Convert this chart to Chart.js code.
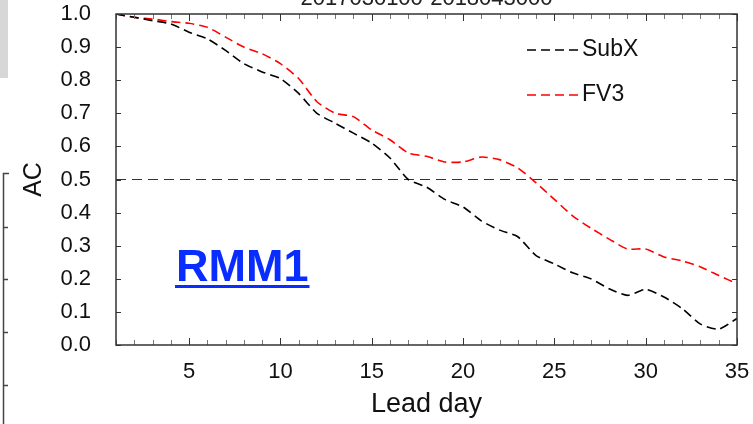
<!DOCTYPE html>
<html>
<head>
<meta charset="utf-8">
<script src="https://cdn.jsdelivr.net/npm/chart.js@4"></script>
<style>
  html, body { margin: 0; padding: 0; background: #fff; }
  canvas { display: block; }
</style>
</head>
<body>
<canvas id="acChart" width="753" height="424"></canvas>
<script>
// DATA
const leadDays = [1, 2, 3, 4, 5, 6, 7, 8, 9, 10, 11, 12, 13, 14, 15, 16, 17, 18,
  19, 20, 21, 22, 23, 24, 25, 26, 27, 28, 29, 30, 31, 32, 33, 34, 35];
const subxAC = [1.0, 0.99, 0.98, 0.97, 0.945, 0.925, 0.89, 0.85, 0.825, 0.805,
  0.76, 0.70, 0.67, 0.64, 0.61, 0.565, 0.50, 0.477, 0.44, 0.417, 0.375, 0.347,
  0.327, 0.27, 0.245, 0.218, 0.20, 0.17, 0.15, 0.168, 0.145, 0.11, 0.063, 0.048, 0.08];
const fv3AC = [1.0, 0.99, 0.985, 0.977, 0.972, 0.96, 0.93, 0.90, 0.88, 0.85,
  0.805, 0.735, 0.70, 0.69, 0.65, 0.62, 0.58, 0.57, 0.553, 0.553, 0.568, 0.56,
  0.535, 0.49, 0.44, 0.39, 0.353, 0.32, 0.29, 0.29, 0.266, 0.254, 0.236, 0.21, 0.185];
const refLine = [0.5, 0.5];
const xTickLabels = [5, 10, 15, 20, 25, 30, 35];
const yTickLabels = [0.0, 0.1, 0.2, 0.3, 0.4, 0.5, 0.6, 0.7, 0.8, 0.9, 1.0];

const FONT = "'Liberation Sans', Arial, Helvetica, sans-serif";
const AXIS = "#333";

// DECORATIONS: frame, inward ticks, legend, title, label
const decor = {
  id: "decor",
  afterDraw(chart) {
    const ctx = chart.ctx;
    const a = chart.chartArea;
    const xs = chart.scales.x;
    const ys = chart.scales.y;
    ctx.save();

    // bits of the neighbouring panel on the left
    ctx.fillStyle = "#d7d7d7";
    ctx.fillRect(0, 0, 8, 78);
    ctx.strokeStyle = "#444";
    ctx.lineWidth = 1.5;
    ctx.beginPath();
    ctx.moveTo(3.5, 424);
    ctx.lineTo(3.5, 173.5);
    ctx.lineTo(9, 173.5);
    [227, 279, 332, 385].forEach(function (y) {
      ctx.moveTo(3.5, y + 0.5);
      ctx.lineTo(8, y + 0.5);
    });
    ctx.stroke();

    // ticks pointing inward
    leadDays.forEach(function (d) {
      const px = Math.round(xs.getPixelForValue(d)) + 0.5;
      const major = d % 5 === 0;
      const len = major ? 7 : 5;
      ctx.strokeStyle = major ? AXIS : "#777";
      ctx.lineWidth = 1;
      ctx.beginPath();
      ctx.moveTo(px, a.bottom);
      ctx.lineTo(px, a.bottom - len);
      ctx.moveTo(px, a.top);
      ctx.lineTo(px, a.top + len);
      ctx.stroke();
    });
    yTickLabels.forEach(function (v) {
      const py = Math.round(ys.getPixelForValue(v)) + 0.5;
      ctx.strokeStyle = AXIS;
      ctx.lineWidth = 1;
      ctx.beginPath();
      ctx.moveTo(a.left, py);
      ctx.lineTo(a.left + 5, py);
      ctx.moveTo(a.right, py);
      ctx.lineTo(a.right - 5, py);
      ctx.stroke();
    });

    // frame
    ctx.strokeStyle = AXIS;
    ctx.lineWidth = 1.5;
    ctx.strokeRect(a.left, a.top, a.right - a.left, a.bottom - a.top);

    // cut-off title
    ctx.fillStyle = "#222";
    ctx.font = "22px " + FONT;
    ctx.textAlign = "center";
    ctx.textBaseline = "alphabetic";
    ctx.fillText("2017030100-2018043000", (a.left + a.right) / 2, 5);

    // legend
    const lx = a.right - 210;
    chart.data.datasets.forEach(function (ds, i) {
      if (!ds.label) return;
      const ly = a.top + 36 + i * 45;
      ctx.strokeStyle = ds.borderColor;
      ctx.lineWidth = 1.5;
      ctx.setLineDash([9, 5]);
      ctx.beginPath();
      ctx.moveTo(lx, ly);
      ctx.lineTo(lx + 55, ly);
      ctx.stroke();
      ctx.setLineDash([]);
      ctx.fillStyle = "#111";
      ctx.font = "23px " + FONT;
      ctx.textAlign = "left";
      ctx.textBaseline = "middle";
      ctx.fillText(ds.label, lx + 55, ly);
    });

    // RMM1 label
    ctx.fillStyle = "#0a2dff";
    ctx.font = "bold 45px " + FONT;
    ctx.textAlign = "left";
    ctx.textBaseline = "alphabetic";
    const tx = a.left + 60;
    ctx.fillText("RMM1", tx, 281);
    const w = ctx.measureText("RMM1").width;
    ctx.fillRect(tx - 1, 285, w + 2, 3);

    ctx.restore();
  },
};

const ctx = document.getElementById("acChart").getContext("2d");

new Chart(ctx, {
  type: "line",
  data: {
    datasets: [
      {
        label: "SubX",
        data: leadDays.map((d, i) => ({ x: d, y: subxAC[i] })),
        borderColor: "#000000",
        borderWidth: 1.6,
        borderDash: [9, 5],
        pointRadius: 0,
        tension: 0.2,
      },
      {
        label: "FV3",
        data: leadDays.map((d, i) => ({ x: d, y: fv3AC[i] })),
        borderColor: "#ff0000",
        borderWidth: 1.6,
        borderDash: [9, 5],
        pointRadius: 0,
        tension: 0.2,
      },
      {
        label: "",
        data: [
          { x: leadDays[0], y: refLine[0] },
          { x: leadDays[leadDays.length - 1], y: refLine[1] },
        ],
        borderColor: "#333",
        borderWidth: 1,
        borderDash: [10, 6],
        pointRadius: 0,
      },
    ],
  },
  options: {
    responsive: false,
    animation: false,
    layout: { padding: { top: 14, right: 16, left: 0, bottom: 0 } },
    scales: {
      x: {
        type: "linear",
        min: 1,
        max: 35,
        grid: { display: false },
        border: { display: false },
        afterBuildTicks: (scale) => {
          scale.ticks = xTickLabels.map((v) => ({ value: v }));
        },
        afterFit: (scale) => {
          scale.height = 79;
          scale.paddingLeft = 0;
          scale.paddingRight = 0;
        },
        ticks: {
          padding: 6,
          color: "#111",
          font: { family: FONT, size: 22 },
        },
        title: {
          display: true,
          text: "Lead day",
          color: "#111",
          padding: { top: 0, bottom: 3 },
          font: { family: FONT, size: 27 },
        },
      },
      y: {
        min: 0,
        max: 1,
        grid: { display: false },
        border: { display: false },
        afterBuildTicks: (scale) => {
          scale.ticks = yTickLabels.map((v) => ({ value: v }));
        },
        afterFit: (scale) => {
          scale.width = 116;
          scale.paddingTop = 0;
          scale.paddingBottom = 0;
        },
        ticks: {
          padding: 17,
          color: "#111",
          font: { family: FONT, size: 22 },
          callback: (v) => Number(v).toFixed(1),
        },
        title: {
          display: true,
          text: "AC",
          color: "#111",
          padding: { top: 19, bottom: 0 },
          font: { family: FONT, size: 25 },
        },
      },
    },
    plugins: {
      legend: { display: false },
      tooltip: { enabled: false },
    },
  },
  plugins: [decor],
});
</script>
</body>
</html>
